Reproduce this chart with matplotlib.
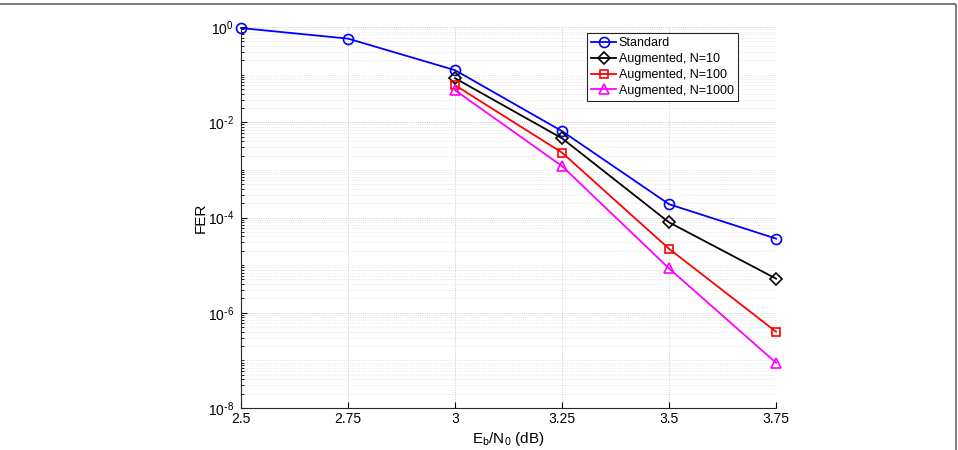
import numpy as np
import matplotlib
matplotlib.use("Agg")
import matplotlib.pyplot as plt
from matplotlib.ticker import FixedLocator, FuncFormatter, NullFormatter
from matplotlib.lines import Line2D

plt.rcParams['font.family'] = ['Liberation Sans', 'DejaVu Sans']
plt.rcParams['axes.unicode_minus'] = False

# data
snr_std = [2.5, 2.75, 3.0, 3.25, 3.5, 3.75]
fer_std = [0.95, 0.57, 0.124, 6.5e-3, 1.9e-4, 3.6e-5]

snr_aug = [3.0, 3.25, 3.5, 3.75]
fer_n10 = [0.084, 4.6e-3, 7.9e-5, 5.2e-6]
fer_n100 = [0.060, 2.3e-3, 2.2e-5, 4.0e-7]
fer_n1000 = [0.047, 1.2e-3, 8.5e-6, 8.9e-8]

labels = ['Standard', 'Augmented, N=10', 'Augmented, N=100', 'Augmented, N=1000']
xticks = [2.5, 2.75, 3.0, 3.25, 3.5, 3.75]
xticklabels = ['2.5', '2.75', '3', '3.25', '3.5', '3.75']


def ylab(v, pos):
    e = int(round(np.log10(v)))
    if e < 0:
        return r'$\mathregular{10^{\text{-}%d}}$' % (-e)
    return r'$\mathregular{10^{%d}}$' % e


fig = plt.figure(figsize=(9.58, 4.5), dpi=100)
ax = fig.add_axes([0.2516, 0.0933, 0.5585, 0.8467])

lw = 1.3
ax.semilogy(snr_std, fer_std, '-o', color='#0000ff', lw=lw, ms=7.2, mfc='none', mew=1.2, label=labels[0], clip_on=False)
ax.semilogy(snr_aug, fer_n10, '-D', color='black', lw=lw, ms=5.8, mfc='none', mew=1.2, label=labels[1], clip_on=False)
ax.semilogy(snr_aug, fer_n100, '-s', color='#ff0000', lw=lw, ms=6.2, mfc='none', mew=1.2, label=labels[2], clip_on=False)
ax.semilogy(snr_aug, fer_n1000, '-^', color='#ff00ff', lw=lw, ms=7.8, mfc='none', mew=1.2, label=labels[3], clip_on=False)

ax.set_xlim(2.5, 3.75)
ax.set_ylim(1e-8, 1)
ax.set_xticks(xticks)
ax.set_xticklabels(xticklabels)

majors = [10.0 ** k for k in range(-8, 1, 2)]
ax.yaxis.set_major_locator(FixedLocator(majors))
minor = [m * 10.0 ** k for k in range(-8, 0) for m in range(1, 10)]
minor = [v for v in minor if v not in majors]
ax.yaxis.set_minor_locator(FixedLocator(minor))
ax.yaxis.set_major_formatter(FuncFormatter(ylab))
ax.yaxis.set_minor_formatter(NullFormatter())

ax.tick_params(which='both', direction='in', labelsize=10, top=False, right=False)
ax.tick_params(which='major', length=4, width=0.8)
ax.tick_params(which='minor', length=2.5, width=0.6)
ax.tick_params(axis='x', pad=3)
ax.tick_params(axis='y', pad=5)

ax.grid(True, which='major', ls=':', color='#bdbdbd', lw=0.6)
ax.grid(True, which='minor', ls=':', color='#d9d9d9', lw=0.5)
ax.set_axisbelow(True)

for s in ['top', 'right']:
    ax.spines[s].set_visible(False)
for s in ['left', 'bottom']:
    ax.spines[s].set_color('#262626')
    ax.spines[s].set_linewidth(0.8)

ax.set_xlabel(r'$\mathregular{E_b/N_0}$ (dB)', fontsize=11, labelpad=3)
ax.set_ylabel('FER', fontsize=11, labelpad=0)

leg = ax.legend(loc='upper right', bbox_to_anchor=(0.929, 0.984), fontsize=9,
                fancybox=False, framealpha=1, edgecolor='#262626',
                handlelength=2.0, handletextpad=0.2, borderpad=0.35,
                labelspacing=0.3, borderaxespad=0)
leg.get_frame().set_linewidth(0.8)

# figure frame line at top and right edge
fig.add_artist(Line2D([0, 0.997], [0.991, 0.991], transform=fig.transFigure, color='#808080', lw=1.5))
fig.add_artist(Line2D([0.998, 0.998], [0, 0.989], transform=fig.transFigure, color='#808080', lw=1.5))

fig.savefig('out.png', dpi=100)
